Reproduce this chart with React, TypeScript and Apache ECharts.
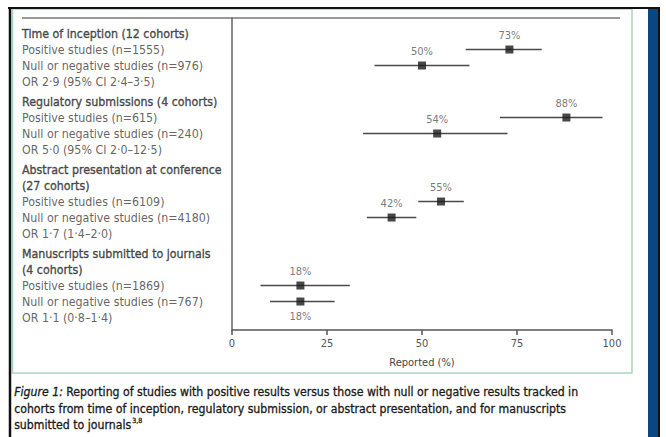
import React, { useEffect, useRef } from "react";
import * as echarts from "echarts";

const groupTitles: string[][] = [
  ["Time of inception (12 cohorts)"],
  ["Regulatory submissions (4 cohorts)"],
  ["Abstract presentation at conference", "(27 cohorts)"],
  ["Manuscripts submitted to journals", "(4 cohorts)"],
];
const positiveN = [1555, 615, 6109, 1869];
const negativeN = [976, 240, 4180, 767];
const oddsRatios = [
  "OR 2·9 (95% CI 2·4–3·5)",
  "OR 5·0 (95% CI 2·0–12·5)",
  "OR 1·7 (1·4–2·0)",
  "OR 1·1 (0·8–1·4)",
];
const positivePct = [73, 88, 55, 18];
const positiveLow = [61.5, 70.5, 49, 7.5];
const positiveHigh = [81.5, 97.5, 61, 31];
const negativePct = [50, 54, 42, 18];
const negativeLow = [37.5, 34.5, 35.5, 10];
const negativeHigh = [62.5, 72.5, 48.5, 27];
const xTicks = [0, 25, 50, 75, 100];

const FONT = '"DejaVu Sans Condensed", "Liberation Sans Narrow", "Open Sans", sans-serif';

export default function App() {
  const ref = useRef<HTMLDivElement>(null);
  useEffect(() => {
    if (!ref.current) return;
    const chart = echarts.init(ref.current, undefined, { renderer: "svg" });

    const textRows: any[] = [];
    const posPoints: any[] = [];
    const negPoints: any[] = [];
    const posBars: any[] = [];
    const negBars: any[] = [];
    let i = 0;
    groupTitles.forEach((titles, g) => {
      const p = (k: number) => k + 0.25 * g;
      titles.forEach((t) => {
        textRows.push({ value: [0, p(i)], name: t, bold: true });
        i++;
      });
      textRows.push({ value: [0, p(i)], name: `Positive studies (n=${positiveN[g]})` });
      posPoints.push({
        value: [positivePct[g], p(i)],
        label: { position: "top" },
      });
      posBars.push([positiveLow[g], positiveHigh[g], p(i)]);
      i++;
      textRows.push({ value: [0, p(i)], name: `Null or negative studies (n=${negativeN[g]})` });
      negPoints.push({
        value: [negativePct[g], p(i)],
        label: { position: g === groupTitles.length - 1 ? "bottom" : "top" },
      });
      negBars.push([negativeLow[g], negativeHigh[g], p(i)]);
      i++;
      textRows.push({ value: [0, p(i)], name: oddsRatios[g] });
      i++;
    });

    const yMin = -0.97;
    const yMax = 18.53;

    const errRender = (params: any, api: any) => {
      const a = api.coord([api.value(0), api.value(2)]);
      const b = api.coord([api.value(1), api.value(2)]);
      return {
        type: "line",
        shape: { x1: a[0], y1: a[1], x2: b[0], y2: b[1] },
        style: { stroke: "#4a4a4a", lineWidth: 1.5 },
      };
    };

    const pointLabel = {
      show: true,
      distance: 5,
      color: "#555",
      fontSize: 11,
      fontFamily: FONT,
      formatter: (p: any) => `${p.value[0]}%`,
    };

    chart.setOption({
      animation: false,
      backgroundColor: "#ffffff",
      textStyle: { fontFamily: FONT },
      grid: [
        { left: 232, right: 54, top: 18, height: 312 },
        { left: 22, width: 200, top: 18, height: 312 },
      ],
      xAxis: [
        {
          type: "value",
          gridIndex: 0,
          min: 0,
          max: 100,
          interval: 25,
          position: "bottom",
          name: "Reported (%)",
          nameLocation: "middle",
          nameGap: 27,
          nameTextStyle: { color: "#444", fontSize: 11, fontFamily: FONT },
          axisLine: { show: true, onZero: false, lineStyle: { color: "#555", width: 1.5 } },
          axisTick: { show: true, length: 5, lineStyle: { color: "#555", width: 1.5 } },
          axisLabel: {
            color: "#555",
            fontSize: 11,
            margin: 8,
            fontFamily: FONT,
            customValues: xTicks,
          },
          splitLine: { show: false },
        },
        {
          type: "value",
          gridIndex: 1,
          min: 0,
          max: 1,
          show: false,
        },
      ],
      yAxis: [
        {
          type: "value",
          gridIndex: 0,
          inverse: true,
          min: yMin,
          max: yMax,
          position: "left",
          axisLine: { show: true, onZero: false, lineStyle: { color: "#666", width: 1.5 } },
          axisTick: { show: false },
          axisLabel: { show: false },
          splitLine: { show: false },
        },
        {
          type: "value",
          gridIndex: 1,
          inverse: true,
          min: yMin,
          max: yMax,
          show: false,
        },
      ],
      series: [
        {
          type: "custom",
          xAxisIndex: 0,
          yAxisIndex: 0,
          renderItem: errRender,
          data: posBars,
          z: 2,
        },
        {
          type: "custom",
          xAxisIndex: 0,
          yAxisIndex: 0,
          renderItem: errRender,
          data: negBars,
          z: 2,
        },
        {
          type: "scatter",
          xAxisIndex: 0,
          yAxisIndex: 0,
          symbol: "rect",
          symbolSize: 8,
          itemStyle: { color: "#1a1a1a" },
          z: 3,
          label: pointLabel,
          data: posPoints,
        },
        {
          type: "scatter",
          xAxisIndex: 0,
          yAxisIndex: 0,
          symbol: "rect",
          symbolSize: 8,
          itemStyle: { color: "#1a1a1a" },
          z: 3,
          label: pointLabel,
          data: negPoints,
        },
        {
          type: "scatter",
          xAxisIndex: 1,
          yAxisIndex: 1,
          symbolSize: 0,
          silent: true,
          label: {
            show: true,
            position: "right",
            distance: 0,
            fontSize: 12,
            fontFamily: FONT,
            formatter: (p: any) =>
              p.data.bold ? `{b|${p.data.name}}` : `{n|${p.data.name}}`,
            rich: {
              b: {
                color: "#2b2b2b",
                fontSize: 12.3,
                fontFamily: FONT,
                textBorderColor: "#2b2b2b",
                textBorderWidth: 0.4,
              },
              n: { color: "#3a3a3a", fontSize: 12.3, fontFamily: FONT },
            },
          },
          data: textRows,
        },
      ],
      graphic: [
        {
          type: "rect",
          shape: { x: 12.5, y: 9, width: 619.5, height: 364 },
          style: { fill: "none", stroke: "#a9d4bf", lineWidth: 1.5 },
        },
        {
          type: "line",
          shape: { x1: 22, y1: 18, x2: 620, y2: 18 },
          style: { stroke: "#777", lineWidth: 1.5 },
        },
        {
          type: "rect",
          shape: { x: 648, y: 8, width: 10, height: 429 },
          style: { fill: "#0a4682" },
        },
        {
          type: "line",
          shape: { x1: 8, y1: 8, x2: 660, y2: 8 },
          style: { stroke: "#111", lineWidth: 2 },
        },
        {
          type: "line",
          shape: { x1: 10, y1: 7, x2: 10, y2: 437 },
          style: { stroke: "#111", lineWidth: 2.5 },
        },
        {
          type: "line",
          shape: { x1: 659, y1: 7, x2: 659, y2: 437 },
          style: { stroke: "#111", lineWidth: 2 },
        },
        {
          type: "text",
          left: 14,
          top: 384,
          style: {
            text:
              "{i|Figure 1:} Reporting of studies with positive results versus those with null or negative results tracked in\n" +
              "cohorts from time of inception, regulatory submission, or abstract presentation, and for manuscripts\n" +
              "submitted to journals{s|3,8}",
            fontFamily: FONT,
            fontSize: 12.2,
            lineHeight: 16.5,
            fill: "#1a1a1a",
            stroke: "#1a1a1a",
            lineWidth: 0.3,
            rich: {
              i: { fontStyle: "italic", fontFamily: FONT, fontSize: 12.2, lineHeight: 16.5, fill: "#1a1a1a" },
              s: { fontSize: 7, fontFamily: FONT, verticalAlign: "top", lineHeight: 16.5, fill: "#1a1a1a", padding: [0, 0, 6, 1] },
            },
          },
        },
      ],
    });
    return () => chart.dispose();
  }, []);
  return (
    <div
      ref={ref}
      style={{ position: "fixed", left: 0, top: 0, width: 666, height: 437 }}
    />
  );
}
